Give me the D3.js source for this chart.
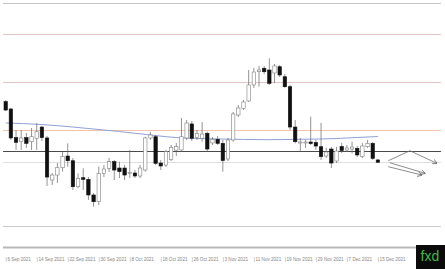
<!DOCTYPE html>
<html>
<head>
<meta charset="utf-8">
<script src="https://cdn.jsdelivr.net/npm/d3@7"></script>
<style>
  html, body { margin: 0; padding: 0; background: #fff; }
  svg { display: block; }
  .axis text { font-family: "Liberation Sans", Arial, sans-serif; font-size: 4.6px; fill: #868686; }
  .axis line { stroke: #b0b0b0; stroke-width: 0.6; }
</style>
</head>
<body>
<svg class="gold" width="445" height="269"></svg>
<script>
// trading days, 6 Sep 2021 - 15 Dec 2021
const dates = [
  "2021-09-06","2021-09-07","2021-09-08","2021-09-09","2021-09-10","2021-09-13","2021-09-14","2021-09-15","2021-09-16","2021-09-17",
  "2021-09-20","2021-09-21","2021-09-22","2021-09-23","2021-09-24","2021-09-27","2021-09-28","2021-09-29","2021-09-30","2021-10-01",
  "2021-10-04","2021-10-05","2021-10-06","2021-10-07","2021-10-08","2021-10-11","2021-10-12","2021-10-13","2021-10-14","2021-10-15",
  "2021-10-18","2021-10-19","2021-10-20","2021-10-21","2021-10-22","2021-10-25","2021-10-26","2021-10-27","2021-10-28","2021-10-29",
  "2021-11-01","2021-11-02","2021-11-03","2021-11-04","2021-11-05","2021-11-08","2021-11-09","2021-11-10","2021-11-11","2021-11-12",
  "2021-11-15","2021-11-16","2021-11-17","2021-11-18","2021-11-19","2021-11-22","2021-11-23","2021-11-24","2021-11-25","2021-11-26",
  "2021-11-29","2021-11-30","2021-12-01","2021-12-02","2021-12-03","2021-12-06","2021-12-07","2021-12-08","2021-12-09","2021-12-10",
  "2021-12-13","2021-12-14","2021-12-15"
];

const open = [
  1829.5,1821.9,1792.0,1788.0,1792.0,1787.8,1791.4,1803.1,1791.7,1747.9,
  1753.1,1760.7,1772.9,1768.0,1740.9,1750.3,1748.6,1732.3,1725.3,1754.9,
  1760.1,1767.0,1760.4,1760.4,1754.7,1755.2,1752.1,1758.3,1791.7,1793.0,
  1765.6,1763.5,1769.5,1779.0,1779.2,1791.7,1806.3,1792.2,1791.4,1796.6,
  1786.5,1790.3,1786.1,1769.8,1789.6,1815.6,1822.6,1830.2,1846.9,1860.7,
  1864.3,1862.5,1859.4,1865.9,1855.5,1845.1,1803.1,1786.5,1787.0,1787.5,
  1787.0,1782.6,1772.9,1780.2,1767.7,1782.8,1779.2,1780.2,1780.9,1772.2,
  1782.6,1786.1,1768.8
];
const high = [
  1831.3,1822.9,1800.0,1800.0,1796.9,1802.1,1807.3,1804.2,1793.8,1755.2,
  1765.6,1777.4,1786.1,1770.8,1754.9,1760.1,1751.0,1734.4,1761.8,1763.5,
  1770.8,1768.8,1767.0,1763.5,1779.2,1758.3,1763.5,1793.0,1798.2,1794.8,
  1768.8,1779.2,1784.4,1786.5,1812.5,1810.4,1809.4,1800.0,1808.3,1798.2,
  1792.7,1793.8,1789.6,1791.7,1818.8,1826.0,1831.3,1862.5,1864.6,1866.7,
  1866.7,1874.7,1868.8,1867.7,1858.3,1846.9,1810.4,1791.7,1789.6,1813.9,
  1789.6,1807.3,1781.3,1782.3,1782.3,1786.5,1784.4,1787.8,1783.3,1786.5,
  1789.6,1787.5,1769.8
];
const low = [
  1819.8,1789.6,1779.2,1779.2,1781.3,1779.2,1779.2,1788.5,1741.7,1742.7,
  1744.8,1756.6,1761.8,1737.5,1739.3,1737.5,1727.1,1720.1,1721.9,1751.0,
  1756.3,1747.9,1750.0,1747.9,1750.0,1750.0,1750.0,1756.6,1789.6,1763.5,
  1758.3,1761.5,1767.7,1772.9,1777.1,1789.6,1788.5,1789.6,1787.8,1777.4,
  1784.4,1784.4,1756.6,1767.7,1787.8,1813.5,1820.8,1829.2,1843.8,1845.1,
  1858.3,1846.9,1849.0,1855.2,1843.8,1800.0,1786.1,1777.4,1781.3,1784.4,
  1779.2,1768.8,1770.8,1760.4,1765.6,1776.0,1777.1,1775.7,1771.9,1770.8,
  1781.3,1768.8,1765.6
];
const close = [
  1820.8,1791.7,1787.2,1791.7,1786.1,1793.0,1798.2,1792.0,1751.0,1753.1,
  1760.7,1772.2,1768.0,1740.9,1749.7,1748.6,1732.3,1725.3,1754.9,1759.4,
  1767.0,1758.3,1756.6,1753.1,1755.7,1752.1,1760.4,1791.7,1794.8,1765.3,
  1762.5,1777.4,1782.0,1783.0,1793.0,1807.3,1791.4,1796.4,1795.8,1780.2,
  1790.1,1786.1,1768.2,1789.6,1816.7,1822.9,1829.2,1846.9,1860.4,1862.5,
  1860.7,1848.6,1866.7,1857.3,1845.1,1803.1,1787.8,1787.5,1787.5,1785.9,
  1783.3,1772.2,1777.1,1765.6,1778.1,1778.6,1781.3,1782.3,1774.0,1783.3,
  1786.1,1770.5,1766.4
];

// moving average, read at a few bars
const maIndex = [0, 7, 14, 22, 28, 34, 42, 50, 57, 64, 68, 72];
const maValue = [1807.3, 1805.7, 1802.6, 1798.4, 1794.8, 1791.7, 1790.6, 1789.9, 1790.3, 1791.1, 1792.2, 1793.2];

// horizontal levels
const levels = [1900, 1850, 1800, 1778, 1767, 1700];

// forecast arrows: [bar index, price]
const scenarioUp = [[74.0, 1768.0], [78.2, 1778.4], [83.4, 1765.3]];
const scenarioDown1 = [[74.3, 1765.9], [81.1, 1754.9]];
const scenarioDown2 = [[74.0, 1761.8], [80.5, 1753.1]];

const tickIndex = [0, 6, 12, 18, 24, 30, 36, 42, 48, 54, 60, 66, 72];

var svg = d3.select(".gold"),
    left = 3,
    right = 441;

var parse = d3.timeParse("%Y-%m-%d"),
    fmt = d3.timeFormat("%-d %b %Y");

var x = d3.scaleLinear().domain([0, dates.length - 1]).range([5.7, 377.9]),
    y = d3.scaleLinear().domain([1700, 1900]).range([226, 34]);

var levelStyle = {
  1900: "#e3c3c3",
  1850: "#e3c3c3",
  1800: "#f2c4ad",
  1778: "#4a4a4a",
  1767: "#e2dede",
  1700: "#cacaca"
};

// frame
svg.append("line")
  .attr("x1", left).attr("x2", right)
  .attr("y1", 3.5).attr("y2", 3.5)
  .attr("stroke", "#c4c4c4").attr("stroke-width", 1);

svg.append("line")
  .attr("x1", left).attr("x2", right)
  .attr("y1", 247.5).attr("y2", 247.5)
  .attr("stroke", "#b8b8b8").attr("stroke-width", 2);

svg.selectAll(".level")
  .data(levels)
  .enter().append("line")
  .attr("class", "level")
  .attr("x1", left).attr("x2", right)
  .attr("y1", function(d) { return Math.round(y(d)) + 0.5; })
  .attr("y2", function(d) { return Math.round(y(d)) + 0.5; })
  .attr("stroke", function(d) { return levelStyle[d]; })
  .attr("stroke-width", 1);

// moving average
var ma = d3.line()
  .x(function(d) { return x(d[0]); })
  .y(function(d) { return y(d[1]); })
  .curve(d3.curveMonotoneX);

svg.append("path")
  .datum(maIndex.map(function(d, i) { return [d, maValue[i]]; }))
  .attr("d", ma)
  .attr("fill", "none")
  .attr("stroke", "#8fa0d8")
  .attr("stroke-width", 1);

// candles
var bars = d3.range(dates.length),
    bw = 3.4;

var g = svg.append("g");

g.selectAll(".wick")
  .data(bars)
  .enter().append("line")
  .attr("class", "wick")
  .attr("x1", function(i) { return x(i); })
  .attr("x2", function(i) { return x(i); })
  .attr("y1", function(i) { return y(high[i]); })
  .attr("y2", function(i) { return y(low[i]); })
  .attr("stroke", "#666")
  .attr("stroke-width", 0.7);

g.selectAll(".body")
  .data(bars)
  .enter().append("rect")
  .attr("class", "body")
  .attr("x", function(i) { return x(i) - bw / 2; })
  .attr("y", function(i) { return y(Math.max(open[i], close[i])); })
  .attr("width", bw)
  .attr("height", function(i) { return Math.max(1, Math.abs(y(open[i]) - y(close[i]))); })
  .attr("fill", function(i) { return close[i] < open[i] ? "#111" : "#fff"; })
  .attr("stroke", function(i) { return close[i] < open[i] ? "#111" : "#808080"; })
  .attr("stroke-width", 0.6);

// forecast arrows
svg.append("defs").append("marker")
  .attr("id", "head")
  .attr("viewBox", "0 0 8 8")
  .attr("refX", 7).attr("refY", 4)
  .attr("markerWidth", 5).attr("markerHeight", 5)
  .attr("markerUnits", "userSpaceOnUse")
  .attr("orient", "auto")
  .append("path")
  .attr("d", "M0,0L8,4L0,8")
  .attr("fill", "none")
  .attr("stroke", "#666")
  .attr("stroke-width", 1.2);

var arrow = d3.line()
  .x(function(d) { return x(d[0]); })
  .y(function(d) { return y(d[1]); });

svg.selectAll(".scenario")
  .data([scenarioUp, scenarioDown1, scenarioDown2])
  .enter().append("path")
  .attr("class", "scenario")
  .attr("d", arrow)
  .attr("fill", "none")
  .attr("stroke", "#707070")
  .attr("stroke-width", 0.8)
  .attr("marker-end", "url(#head)");

// date axis
var axis = svg.append("g")
  .attr("class", "axis")
  .attr("transform", "translate(0,257)")
  .call(d3.axisBottom(x)
    .tickValues(tickIndex)
    .tickSize(5)
    .tickFormat(function(i) { return fmt(parse(dates[i])); }));

axis.select(".domain").remove();
axis.selectAll("text")
  .attr("x", 1.2)
  .attr("y", 0.6)
  .attr("dy", "0.75em")
  .attr("text-anchor", "start");

// logo
svg.append("rect")
  .attr("x", 416).attr("y", 245)
  .attr("width", 29).attr("height", 24)
  .attr("fill", "#0b0b0b");

svg.append("text")
  .attr("x", 420.5).attr("y", 261)
  .attr("font-family", "Liberation Sans, Arial, sans-serif")
  .attr("font-size", 14)
  .attr("fill", "#43b649")
  .text("fxd");
</script>
</body>
</html>
